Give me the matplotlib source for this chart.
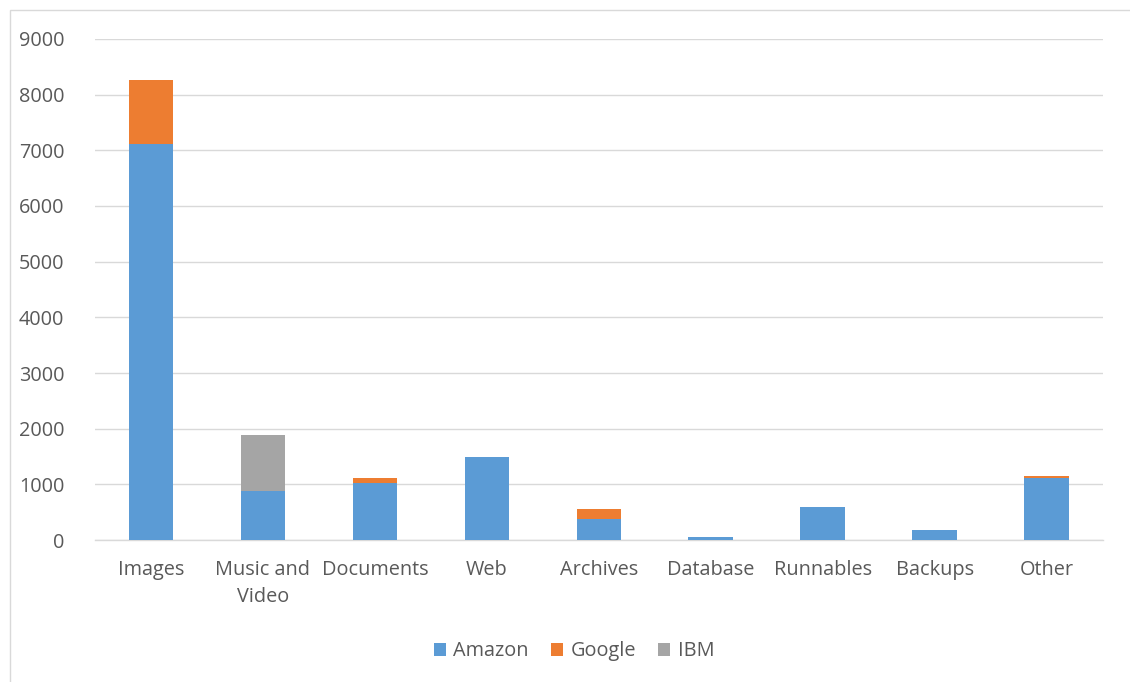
import matplotlib
matplotlib.use("Agg")
import matplotlib.pyplot as plt
from matplotlib.patches import Rectangle
import numpy as np

categories = ["Images", "Music and\nVideo", "Documents", "Web", "Archives",
              "Database", "Runnables", "Backups", "Other"]
amazon = [7110, 880, 1030, 1485, 377, 50, 587, 180, 1120]
google = [1150, 0, 85, 0, 175, 0, 0, 0, 35]
ibm = [0, 1000, 0, 0, 0, 0, 0, 0, 0]
y_ticks = [0, 1000, 2000, 3000, 4000, 5000, 6000, 7000, 8000, 9000]

BLUE = "#5b9bd5"
ORANGE = "#ed7d31"
GREY = "#a5a5a5"
TEXT = "#595959"

plt.rcParams["font.family"] = ["Open Sans", "DejaVu Sans"]

fig = plt.figure(figsize=(11.3, 6.82), dpi=100)
ax = fig.add_axes([0.084, 0.208, 0.892, 0.735])

x = np.arange(len(categories))
w = 0.4
amazon_a = np.array(amazon)
google_a = np.array(google)
ax.bar(x, amazon, w, color=BLUE, label="Amazon", zorder=3)
ax.bar(x, google, w, bottom=amazon_a, color=ORANGE, label="Google", zorder=3)
ax.bar(x, ibm, w, bottom=amazon_a + google_a, color=GREY, label="IBM", zorder=3)

ax.set_xlim(-0.5, len(categories) - 0.5)
ax.set_ylim(0, 9000)
ax.set_yticks(y_ticks)
ax.set_yticklabels([str(v) for v in y_ticks])
ax.set_xticks(x)
ax.set_xticklabels(categories, linespacing=1.5)
ax.tick_params(axis="both", length=0, labelsize=14.3, colors=TEXT)
ax.tick_params(axis="y", pad=22)
ax.tick_params(axis="x", pad=14)
ax.grid(axis="y", color="#d9d9d9", linewidth=1, zorder=0)
for s in ["top", "right", "left"]:
    ax.spines[s].set_visible(False)
ax.spines["bottom"].set_color("#d9d9d9")
ax.spines["bottom"].set_linewidth(1)

leg = fig.legend(loc="center", bbox_to_anchor=(0.508, 0.045), ncol=3, frameon=False,
                 fontsize=14.3, handlelength=0.6, handleheight=0.6, handletextpad=0.4,
                 columnspacing=1.1)
for t in leg.get_texts():
    t.set_color(TEXT)

fig.patches.append(Rectangle((0.009, -0.1), 1.2, 1.085, transform=fig.transFigure,
                             fill=False, edgecolor="#d9d9d9", linewidth=1))

fig.savefig("out.png", dpi=100)
